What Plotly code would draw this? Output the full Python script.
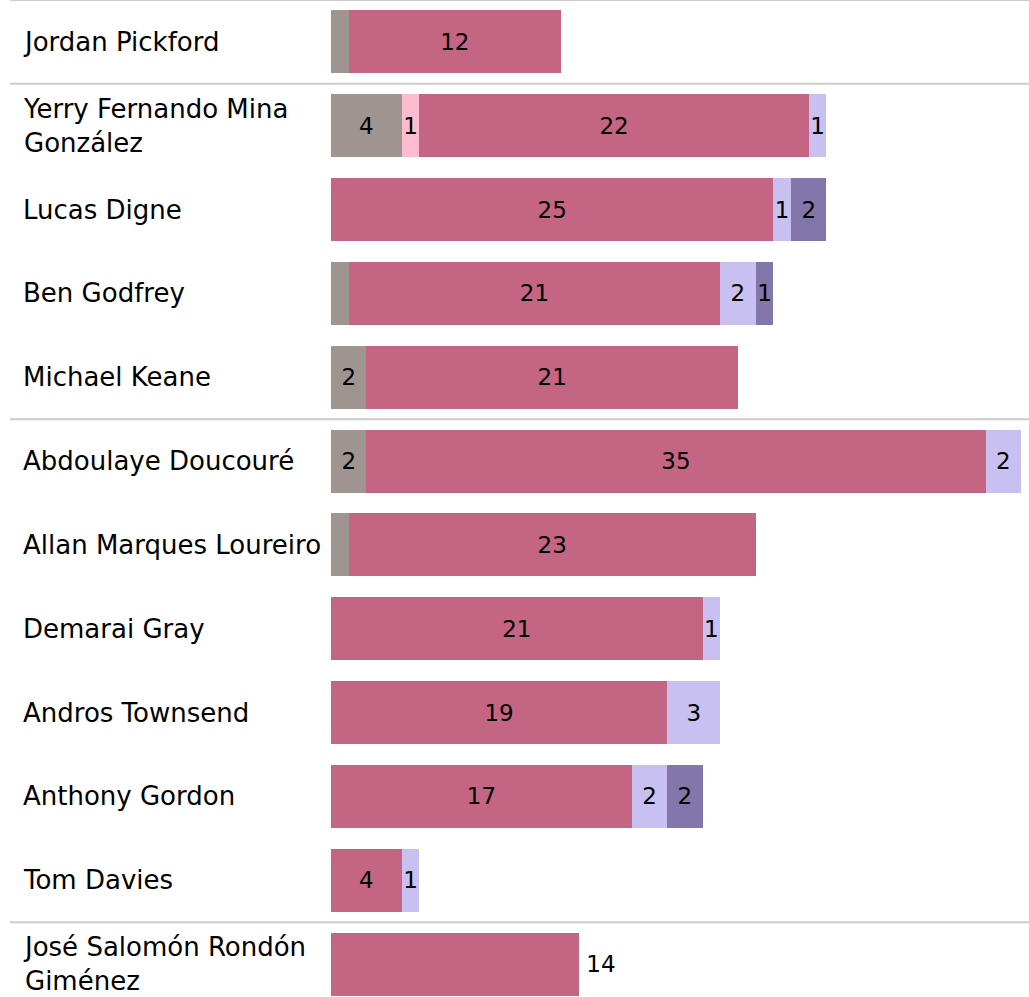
import plotly.graph_objects as go

players = ["Jordan Pickford", "Yerry Fernando Mina<br>González", "Lucas Digne", "Ben Godfrey",
           "Michael Keane", "Abdoulaye Doucouré", "Allan Marques Loureiro", "Demarai Gray",
           "Andros Townsend", "Anthony Gordon", "Tom Davies", "José Salomón Rondón<br>Giménez"]
seg_gray = [1, 4, 0, 1, 2, 2, 1, 0, 0, 0, 0, 0]
seg_lightpink = [0, 1, 0, 0, 0, 0, 0, 0, 0, 0, 0, 0]
seg_darkpink = [12, 22, 25, 21, 21, 35, 23, 21, 19, 17, 4, 14]
seg_lavender = [0, 1, 1, 2, 0, 2, 0, 1, 3, 2, 1, 0]
seg_purple = [0, 0, 2, 1, 0, 0, 0, 0, 0, 2, 0, 0]
group_breaks = [-0.5, 0.5, 4.5, 10.5]

colors = {"gray": "#9e9490", "lightpink": "#ffbcd0", "darkpink": "#c46584",
          "lavender": "#c8c0f0", "purple": "#8276aa"}

n = len(players)
ys = list(range(n))
fig = go.Figure()

def label(v, hide_one=False, prefix=""):
    if v == 0 or (hide_one and v == 1):
        return ""
    return prefix + str(v)

def add(vals, color, hide_one=False, idx=None, pos="inside", prefix=""):
    idx = idx if idx is not None else range(n)
    fig.add_trace(go.Bar(
        y=[ys[i] for i in idx], x=[vals[i] for i in idx], orientation="h",
        marker=dict(color=color, line=dict(width=0)),
        text=[label(vals[i], hide_one, prefix) for i in idx], textposition=pos,
        insidetextanchor="middle", constraintext="none", cliponaxis=False,
        textfont=dict(color="black", size=23, family="DejaVu Sans"),
        width=0.75, showlegend=False, hoverinfo="skip"))

add(seg_gray, colors["gray"], hide_one=True)
add(seg_lightpink, colors["lightpink"])
add(seg_darkpink, colors["darkpink"], idx=range(n - 1))
add(seg_lavender, colors["lavender"])
add(seg_purple, colors["purple"])
add(seg_darkpink, colors["darkpink"], idx=[n - 1], pos="outside", prefix="\u2009")

W = 1029
L, R = 331, 8
pw = W - L - R
for i, p in enumerate(players):
    fig.add_annotation(x=(21 - L) / pw, xref="paper", y=i, yref="y", text=p,
                       xanchor="left", yanchor="middle", align="left", showarrow=False,
                       font=dict(size=26, color="black", family="DejaVu Sans"))

for b in group_breaks:
    fig.add_shape(type="line", xref="paper", yref="y", x0=(10 - L) / pw, x1=(1029 - L) / pw,
                  y0=b, y1=b, line=dict(color="#cccccc", width=2))

fig.update_layout(
    width=W, height=1006, margin=dict(l=L, r=R, t=0, b=0),
    barmode="stack", bargap=0.25, plot_bgcolor="white", paper_bgcolor="white",
    xaxis=dict(range=[0, 39], visible=False),
    yaxis=dict(range=[n - 0.5, -0.5], visible=False),
    font=dict(family="DejaVu Sans"))

fig.write_html("out.html", config={"displayModeBar": False},
               post_script="document.body.style.margin='0';")
